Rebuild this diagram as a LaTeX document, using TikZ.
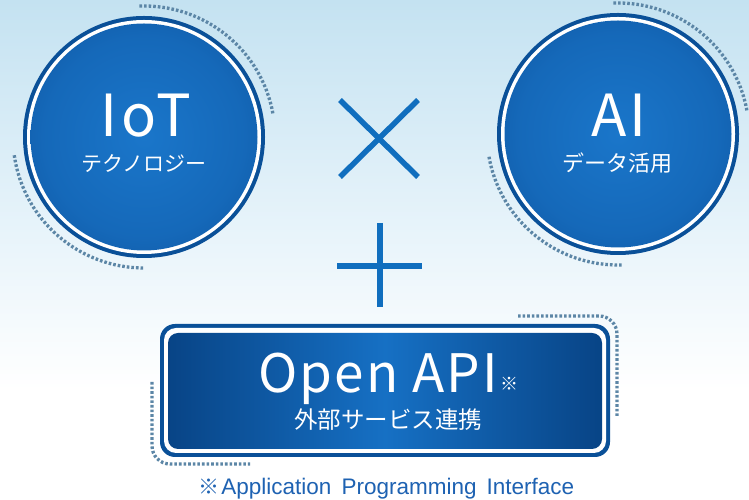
\documentclass[tikz,border=0pt]{standalone}
\usepackage{fontspec}
\newfontfamily\cjk{Noto Sans CJK JP}
\newfontfamily\arial{Liberation Sans}
\definecolor{ringblue}{RGB}{10,80,152}
\definecolor{diskin}{RGB}{26,118,202}
\definecolor{diskout}{RGB}{6,64,134}
\definecolor{dotgray}{RGB}{92,134,166}
\definecolor{signblue}{RGB}{16,110,190}
\definecolor{bgtop}{RGB}{196,226,241}
\definecolor{bgmid}{RGB}{226,241,249}
\definecolor{texblue}{RGB}{30,98,178}
\definecolor{boxdark}{RGB}{8,68,134}
\definecolor{boxlight}{RGB}{22,112,196}
\pgfdeclareradialshading{diskshade}{\pgfpoint{0bp}{0bp}}{color(0bp)=(diskin); color(22bp)=(diskin!75!diskout); color(50bp)=(diskout)}
\tikzset{
  dotline/.style={draw=dotgray, line width=3.3pt, dash pattern=on 2.6pt off 2pt},
  sign/.style={draw=signblue, line width=5.5pt},
  bigtxt/.style={text=white, font=\cjk\fontsize{58}{60}\selectfont\addfontfeature{LetterSpace=6}, inner sep=0pt},
  smalltxt/.style={text=white, font=\cjk\fontsize{21}{24}\selectfont, inner sep=0pt},
}
\begin{document}
\begin{tikzpicture}[x=1pt,y=1pt]
\useasboundingbox (0,0) rectangle (749,500);
% background
\fill[white] (0,0) rectangle (749,500);
\shade[top color=bgtop, bottom color=white, middle color=bgmid] (0,110) rectangle (749,500);

% IoT circle
\coordinate (ciot) at (144,363);
\fill[ringblue] (ciot) circle (121);
\fill[white] (ciot) circle (117);
\shade[shading=diskshade] (ciot) circle (113.5);
\draw[dotline] (ciot) ++(92:131) arc (92:10:131);
\draw[dotline] (ciot) ++(188:131) arc (188:270:131);
\node[bigtxt, anchor=base] (iott) at (146,363) {IoT};
\node[smalltxt, anchor=base] (iots) at (144,328) {テクノロジー};

% AI circle
\coordinate (cai) at (618,366);
\fill[ringblue] (cai) circle (121);
\fill[white] (cai) circle (117);
\shade[shading=diskshade] (cai) circle (113.5);
\draw[dotline] (cai) ++(92:131) arc (92:10:131);
\draw[dotline] (cai) ++(190:131) arc (190:272:131);
\node[bigtxt, anchor=base] (ait) at (619,363) {AI};
\node[smalltxt, anchor=base, font=\cjk\fontsize{22}{24}\selectfont] (ais) at (617,328) {データ活用};

% times sign
\coordinate (x1) at (340,400);
\coordinate (x2) at (418,323);
\coordinate (x3) at (340,323);
\coordinate (x4) at (418,400);
\draw[sign] (x1) -- (x2);
\draw[sign] (x3) -- (x4);

% plus sign
\coordinate (p1) at (380,277);
\coordinate (p2) at (380,193);
\coordinate (p3) at (337,234);
\coordinate (p4) at (422,234);
\draw[sign] (p1) -- (p2);
\draw[sign] (p3) -- (p4);

% Open API box
\fill[ringblue, rounded corners=15] (160,43) rectangle (610,176);
\fill[white, rounded corners=12] (164,47) rectangle (606,172);
\shade[left color=boxdark, right color=boxdark, middle color=boxlight, rounded corners=10] (168,51) rectangle (602,167);
\draw[dotline, rounded corners=18] (518,184) -- (617,184) -- (617,83);
\draw[dotline, rounded corners=18] (152,118) -- (152,36) -- (250,36);
\node[text=white, font=\cjk\fontsize{53}{55}\selectfont\addfontfeature{LetterSpace=4}, inner sep=0pt, anchor=base] (api) at (378,107) {Open API};
\node[text=white, font=\cjk\fontsize{18}{18}\selectfont, inner sep=0pt, anchor=base west] (apimark) at ([xshift=2pt,yshift=2pt]api.base east) {※};
\node[smalltxt, anchor=base, font=\cjk\fontsize{23.5}{26}\selectfont] (apis) at (388,71) {外部サービス連携};

% footnote
\node[text=texblue, inner sep=0pt, anchor=base] (foot) at (386.5,5) {{\cjk\fontsize{21}{24}\selectfont ※}\,{\arial\fontsize{22.5}{24}\selectfont Application\hspace{0.45em}Programming\hspace{0.45em}Interface}};
\end{tikzpicture}
\end{document}
